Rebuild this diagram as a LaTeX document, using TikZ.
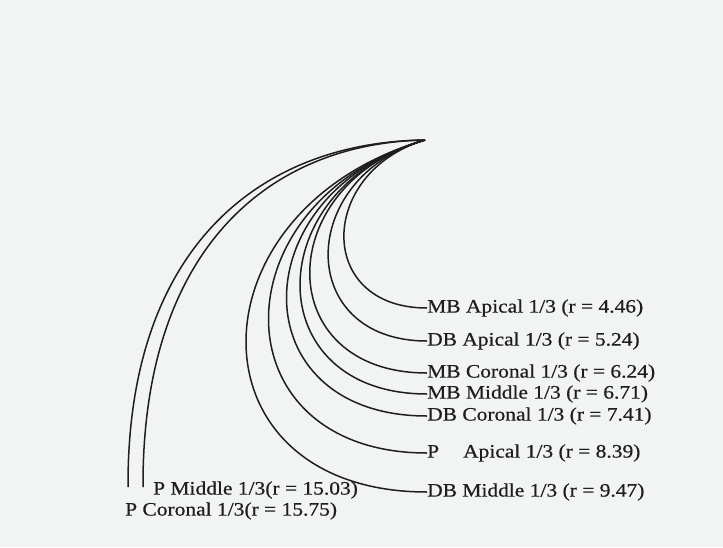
\documentclass[tikz,border=0pt]{standalone}
\usepackage{fontspec}
\setmainfont{Liberation Serif}[FakeStretch=1.13, FakeBold=0.6]
\usetikzlibrary{positioning, calc}
\definecolor{paper}{RGB}{242,244,244}
\definecolor{ink}{RGB}{30,30,30}

\begin{document}
\begin{tikzpicture}[
  x=1pt, y=-1pt,
  lbl/.style={anchor=west, inner sep=0pt, text=ink,
              font=\fontsize{19}{21}\selectfont},
  crv/.style={draw=ink, line width=1.5pt}
]
  \fill[paper] (0,0) rectangle (723,547);
  \useasboundingbox (0,0) rectangle (723,547);

  \coordinate (apex) at (425,140);

  % right column of labels
  \node[lbl] (mbap)  at (427,308) {MB Apical 1/3 (r = 4.46)};
  \node[lbl] (dbap)  at (427,341) {DB Apical 1/3 (r = 5.24)};
  \node[lbl] (mbcor) at (427,373) {MB Coronal 1/3 (r = 6.24)};
  \node[lbl] (mbmid) at (427,394) {MB Middle 1/3 (r = 6.71)};
  \node[lbl] (dbcor) at (427,416) {DB Coronal 1/3 (r = 7.41)};
  \node[lbl] (pap)   at (427,453) {P\hspace{24pt}Apical 1/3 (r = 8.39)};
  \node[lbl] (dbmid) at (427,492) {DB Middle 1/3 (r = 9.47)};
  % bottom left labels
  \node[lbl] (pmid)  at (153,490) {P Middle 1/3(r = 15.03)};
  \node[lbl] (pcor)  at (125,511) {P Coronal 1/3(r = 15.75)};

  \draw[crv] (apex) .. controls (318,172) and (315,308) .. (mbap.west);
  \draw[crv] (apex) .. controls (296,178) and (295,341) .. (dbap.west);
  \draw[crv] (apex) .. controls (271,185) and (271,373) .. (mbcor.west);
  \draw[crv] (apex) .. controls (258,189) and (258,394) .. (mbmid.west);
  \draw[crv] (apex) .. controls (240,194) and (240,416) .. (dbcor.west);
  \draw[crv] (apex) .. controls (216,201) and (216,453) .. (pap.west);
  \draw[crv] (apex) .. controls (186,210) and (186,492) .. (dbmid.west);
  \draw[crv] (apex) .. controls (268,143) and (142,250) .. ($(pmid.west)+(-10,-3)$);
  \draw[crv] (apex) .. controls (262,142) and (127,245) .. ($(pcor.west)+(3,-24)$);
\end{tikzpicture}
\end{document}
